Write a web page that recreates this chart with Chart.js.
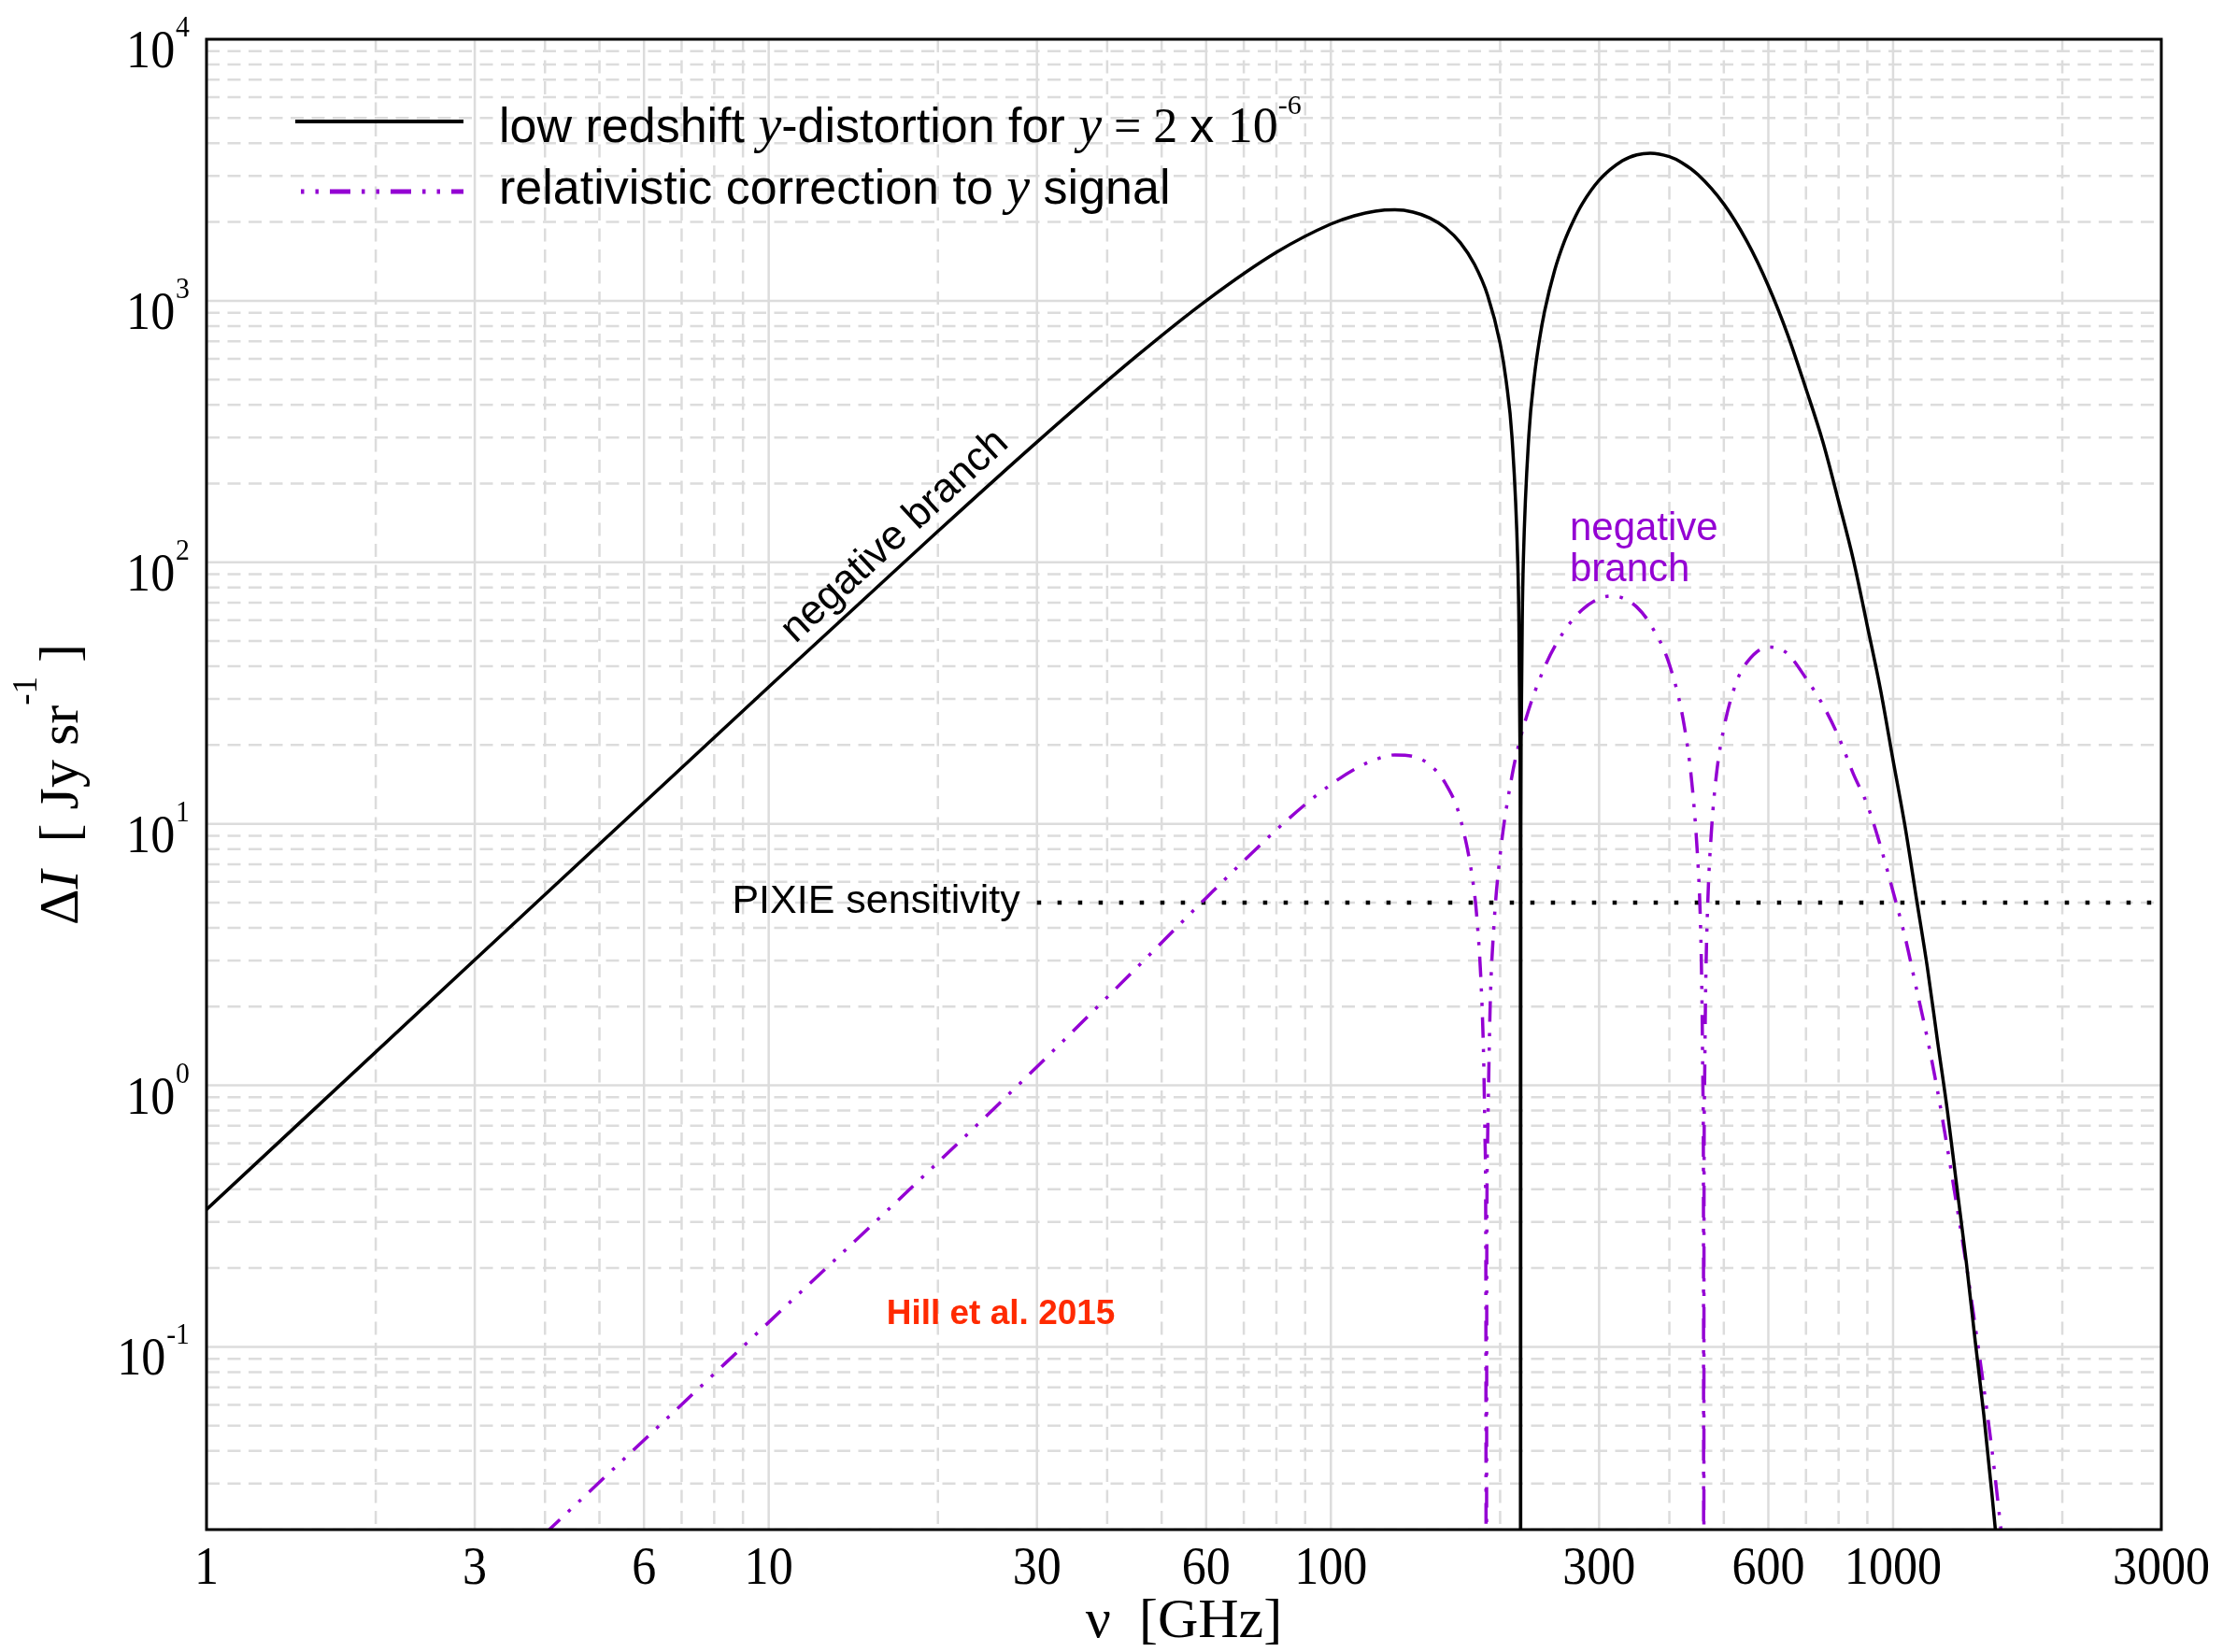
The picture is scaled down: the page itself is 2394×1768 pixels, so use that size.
<!DOCTYPE html>
<html>
<head>
<meta charset="utf-8">
<script src="https://cdn.jsdelivr.net/npm/chart.js@4/dist/chart.umd.min.js"></script>
<style>
  html, body { margin: 0; padding: 0; background: #fff; }
  #c { display: block; }
</style>
</head>
<body>
<canvas id="c" width="2394" height="1768" style="width:2394px;height:1768px"></canvas>
<script>
// frequencies in GHz, |dI| in Jy/sr
const nuY = [1, 3, 10, 20, 30, 45, 60, 80, 100, 110, 120, 130, 140, 150, 160, 170, 180, 190, 200, 205, 210,
  215, 216, 217, 217.3, 217.47, 217.7, 218, 219, 220, 225, 230, 235, 240, 250, 260, 270, 280, 300,
  330, 350, 370, 400, 420, 450, 500, 550, 600, 650, 700, 750, 800, 850, 900, 950, 1000, 1050,
  1100, 1150, 1200, 1250, 1300, 1350, 1400, 1450, 1500, 1550];
const dIy = [0.335, 3.016, 33.36, 131.4, 288.2, 611.4, 1000.5, 1532, 1965, 2113, 2202, 2226, 2183, 2072, 1898, 1665, 1379, 1050, 687, 494, 299.4,
  99.6, 59, 18.9, 6.8, 0.001, 9.2, 21.3, 61.4, 102.6, 306.3, 510, 712, 913.6, 1306, 1679, 2024, 2348, 2889,
  3429, 3612, 3667, 3556, 3384, 3033, 2343, 1682, 1140, 738, 460, 289, 171, 102, 57, 32.5, 17.5, 9.8,
  5.2, 2.85, 1.47, 0.79, 0.40, 0.21, 0.105, 0.055, 0.027, 0.013];

const nuRel = [4, 10, 20, 30, 45, 60, 80, 90, 100, 110, 120, 130, 140, 150, 160, 170, 180, 182, 185, 187, 188, 188.6,
  189, 189.4, 190, 192, 195, 200, 210, 220, 240, 260, 280, 300, 315, 330, 350, 370, 400, 425, 440, 450,
  454, 457, 459, 460, 460.5, 461, 462, 464, 468, 475, 485, 500, 525, 550, 600, 620, 650, 700, 750, 800,
  850, 900, 950, 1000, 1050, 1100, 1150, 1200, 1250, 1300, 1350, 1400, 1450, 1500, 1560];
const dIrel = [0.0193, 0.1241, 0.507, 1.177, 2.796, 5.209, 9.484, 11.85, 14.13, 16.13, 17.61, 18.34, 18.11, 16.78, 14.23, 10.44, 5.455, 4.27, 2.45, 1.234, 0.619, 0.248,
  0.001, 0.249, 0.617, 2.00, 4.08, 7.60, 15.28, 23.38, 39.74, 54.53, 65.88, 72.60, 74.28, 73.09, 67.44, 57.95, 40.7, 23.8, 13.4, 6.87,
  4.41, 2.24, 0.96, 0.32, 0.001, 0.32, 0.96, 2.27, 4.89, 9.23, 15.4, 23.2, 34.3, 41.5, 47.4, 47.06, 44.6, 36, 28.5, 21.5,
  15.5, 11.8, 8.2, 5.5, 3.7, 2.35, 1.52, 0.95, 0.57, 0.34, 0.205, 0.12, 0.07, 0.04, 0.019];

const pixieNu = [30, 2950];
const pixieLevel = [5, 5];

const xTickVals = [1, 3, 6, 10, 30, 60, 100, 300, 600, 1000, 3000];
const yExponents = [-1, 0, 1, 2, 3, 4];

// annotation anchors in data units
const negLabelNu = 18;
const purpleLabelAt = [266, 121.5];
const pixieLabelNu = 28;
const hillAt = [16.2, 0.1225];

const SERIF = '"Liberation Serif", "DejaVu Serif", serif';
const SANS = '"Liberation Sans", Arial, sans-serif';
const PURPLE = '#9400d3';
const relDash = [22, 12, 3.5, 12, 3.5, 12];

function loglog(xs, ys, v) {
  for (let i = 1; i < xs.length; i++) {
    if (xs[i] >= v) {
      const t = Math.log(v / xs[i - 1]) / Math.log(xs[i] / xs[i - 1]);
      return Math.exp(Math.log(ys[i - 1]) + t * Math.log(ys[i] / ys[i - 1]));
    }
  }
  return ys[ys.length - 1];
}

function txt(ctx, s, x, y, font, align, sx) {
  ctx.save();
  ctx.font = font; ctx.textAlign = align || 'left'; ctx.textBaseline = 'alphabetic';
  ctx.translate(x, y); ctx.scale(sx || 1, 1);
  ctx.fillText(s, 0, 0);
  ctx.restore();
}

// parts: [text, font, rise]
function runs(ctx, parts, x, y, align) {
  let w = 0;
  parts.forEach(p => { ctx.font = p[1]; w += ctx.measureText(p[0]).width; });
  let cx = align === 'center' ? x - w / 2 : x;
  ctx.textAlign = 'left'; ctx.textBaseline = 'alphabetic';
  parts.forEach(p => {
    ctx.font = p[1];
    ctx.fillText(p[0], cx, y - (p[2] || 0));
    cx += ctx.measureText(p[0]).width;
  });
}

function seg(ctx, x0, y0, x1, y1) { ctx.beginPath(); ctx.moveTo(x0, y0); ctx.lineTo(x1, y1); ctx.stroke(); }

const gridPlugin = {
  id: 'gridLines',
  beforeDatasetsDraw(chart) {
    const { ctx, chartArea: a, scales: { x, y } } = chart;
    ctx.save();
    ctx.beginPath(); ctx.rect(a.left, a.top, a.right - a.left, a.bottom - a.top); ctx.clip();
    ctx.strokeStyle = '#dcdcdc';
    ctx.lineWidth = 2.5;
    // dashed minor lines
    ctx.setLineDash([14, 8.5]);
    for (let e = 0; e <= 3; e++) {
      for (let m = 2; m <= 9; m++) {
        const v = m * Math.pow(10, e);
        if (v >= 3000 || xTickVals.includes(v)) continue;
        const px = x.getPixelForValue(v);
        seg(ctx, px, a.top, px, a.bottom);
      }
    }
    for (let e = -2; e <= 3; e++) {
      for (let m = 2; m <= 9; m++) {
        const v = m * Math.pow(10, e);
        if (v < 0.02 || v > 10000) continue;
        const py = y.getPixelForValue(v);
        seg(ctx, a.left, py, a.right, py);
      }
    }
    // solid lines at labelled values
    ctx.setLineDash([]);
    xTickVals.forEach(v => { const px = x.getPixelForValue(v); seg(ctx, px, a.top, px, a.bottom); });
    yExponents.forEach(e => { const py = y.getPixelForValue(Math.pow(10, e)); seg(ctx, a.left, py, a.right, py); });
    ctx.restore();
  }
};

const decorPlugin = {
  id: 'decor',
  afterDraw(chart) {
    const { ctx, chartArea: a, scales: { x, y } } = chart;
    ctx.save();
    // frame
    ctx.strokeStyle = '#000'; ctx.lineWidth = 3; ctx.setLineDash([]);
    ctx.strokeRect(a.left, a.top, a.right - a.left, a.bottom - a.top);

    ctx.fillStyle = '#000';
    // x tick labels
    xTickVals.forEach(v => txt(ctx, String(v), x.getPixelForValue(v), a.bottom + 58, '56px ' + SERIF, 'center', 0.93));
    // y tick labels 10^e
    yExponents.forEach(e => {
      const py = y.getPixelForValue(Math.pow(10, e));
      ctx.save();
      ctx.translate(a.left - 18, py); ctx.scale(0.93, 1);
      ctx.textAlign = 'right'; ctx.textBaseline = 'alphabetic';
      ctx.font = '32px ' + SERIF;
      const sw = ctx.measureText(String(e)).width;
      ctx.fillText(String(e), 0, -3);
      ctx.font = '56px ' + SERIF;
      ctx.fillText('10', -sw - 1, 30);
      ctx.restore();
    });

    // axis titles
    runs(ctx, [['\u03bd  [GHz]', '60px ' + SERIF]], (a.left + a.right) / 2, a.bottom + 115, 'center');
    ctx.save();
    ctx.translate(83, (a.top + a.bottom) / 2);
    ctx.rotate(-Math.PI / 2);
    runs(ctx, [
      ['\u0394', '60px ' + SERIF],
      ['I', 'italic 60px ' + SERIF],
      ['  [ Jy sr', '60px ' + SERIF],
      ['-1', '37px ' + SERIF, 44],
      [' ]', '60px ' + SERIF]
    ], 0, 0, 'center');
    ctx.restore();

    // legend
    const lx0 = a.left + 95, lx1 = a.left + 275, tx = a.left + 313;
    ctx.strokeStyle = '#000'; ctx.lineWidth = 4;
    seg(ctx, lx0, a.top + 88, lx1, a.top + 88);
    ctx.strokeStyle = PURPLE; ctx.lineWidth = 5; ctx.setLineDash(relDash); ctx.lineDashOffset = 28;
    seg(ctx, lx0, a.top + 163, lx1, a.top + 163);
    ctx.setLineDash([]); ctx.lineDashOffset = 0;
    ctx.fillStyle = '#000';
    runs(ctx, [
      ['low redshift ', '52px ' + SANS],
      ['y', 'italic 56px ' + SERIF],
      ['-distortion for ', '52px ' + SANS],
      ['y', 'italic 56px ' + SERIF],
      [' = 2 ', '52px ' + SERIF],
      ['x ', '52px ' + SANS],
      ['10', '54px ' + SERIF],
      ['-6', '30px ' + SERIF, 30]
    ], tx, a.top + 110);
    runs(ctx, [
      ['relativistic correction to ', '52px ' + SANS],
      ['y', 'italic 56px ' + SERIF],
      [' signal', '52px ' + SANS]
    ], tx, a.top + 176);

    // "negative branch" along the black line
    const p1x = x.getPixelForValue(nuY[1]), p1y = y.getPixelForValue(dIy[1]);
    const p2x = x.getPixelForValue(nuY[3]), p2y = y.getPixelForValue(dIy[3]);
    const ang = Math.atan2(p2y - p1y, p2x - p1x);
    const ax = x.getPixelForValue(negLabelNu), ay = y.getPixelForValue(loglog(nuY, dIy, negLabelNu));
    ctx.save();
    ctx.translate(ax + 15 * Math.sin(ang), ay - 15 * Math.cos(ang));
    ctx.rotate(ang);
    ctx.font = '44px ' + SANS; ctx.textAlign = 'center'; ctx.textBaseline = 'alphabetic';
    ctx.fillText('negative branch', 0, 0);
    ctx.restore();

    // purple label
    ctx.fillStyle = PURPLE;
    const plx = x.getPixelForValue(purpleLabelAt[0]), ply = y.getPixelForValue(purpleLabelAt[1]);
    txt(ctx, 'negative', plx, ply, '42px ' + SANS, 'left');
    txt(ctx, 'branch', plx, ply + 44, '42px ' + SANS, 'left');

    // PIXIE label
    ctx.fillStyle = '#000';
    txt(ctx, 'PIXIE sensitivity', x.getPixelForValue(pixieLabelNu), y.getPixelForValue(pixieLevel[0]) + 11, '43px ' + SANS, 'right');

    // reference
    ctx.fillStyle = '#ff2a00';
    txt(ctx, 'Hill et al. 2015', x.getPixelForValue(hillAt[0]), y.getPixelForValue(hillAt[1]), 'bold 37px ' + SANS, 'left');
    ctx.restore();
  }
};

new Chart(document.getElementById('c'), {
  type: 'line',
  data: {
    datasets: [
      {
        label: 'low redshift y-distortion for y = 2 x 10^-6',
        data: nuY.map((v, i) => ({ x: v, y: dIy[i] })),
        borderColor: '#000', borderWidth: 3.5, pointRadius: 0, cubicInterpolationMode: 'monotone', fill: false
      },
      {
        label: 'relativistic correction to y signal',
        data: nuRel.map((v, i) => ({ x: v, y: dIrel[i] })),
        borderColor: PURPLE, borderWidth: 3.5, borderDash: relDash, pointRadius: 0, cubicInterpolationMode: 'monotone', fill: false
      },
      {
        label: 'PIXIE sensitivity',
        data: pixieNu.map((v, i) => ({ x: v, y: pixieLevel[i] })),
        borderColor: '#000', borderWidth: 4.5, borderDash: [4.5, 17.5], pointRadius: 0, fill: false
      }
    ]
  },
  options: {
    responsive: false,
    animation: false,
    devicePixelRatio: 1,
    layout: { padding: { left: 221, right: 81, top: 42, bottom: 131 } },
    plugins: { legend: { display: false }, tooltip: { enabled: false } },
    scales: {
      x: { type: 'logarithmic', min: 1, max: 3000, display: false },
      y: { type: 'logarithmic', min: 0.02, max: 10000, display: false }
    }
  },
  plugins: [gridPlugin, decorPlugin]
});
</script>
</body>
</html>
